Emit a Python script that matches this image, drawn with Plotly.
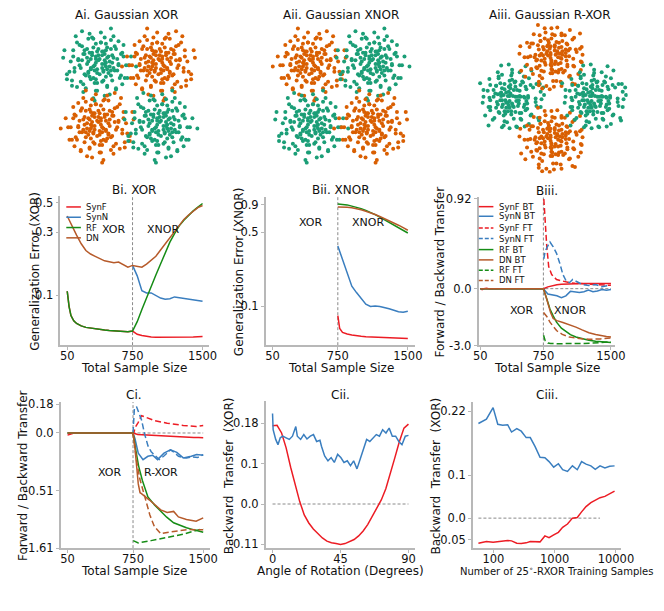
import math
import plotly.graph_objects as go

W, H = 664, 611

# ---------------- Panel A : hand-read cluster offsets (cluster-relative units) ----------------
OFF_X = [0.1,-0.5,1.2,-1.1,0.6,-0.2,1.8,-1.6,0.4,-0.8,2.3,-2.1,0.9,-0.3,1.4,-1.3,0.2,0.7,-0.6,1.0,
         -1.9,0.3,-0.9,1.6,-0.1,2.6,-2.7,0.5,-0.4,1.1,-1.4,0.8,-0.7,0.0,1.9,-1.2,0.6,-0.2,1.3,-0.9,
         0.4,-1.7,2.0,-0.5,0.9,-2.3,1.5,-0.1,0.2,-1.0,3.0,-0.6,0.7,-1.5,1.2,-0.3,0.5,-2.0,1.7,-0.8,
         0.3,-1.1,2.2,-0.4,0.0,1.0,-2.5,0.6,-0.2,1.4]
OFF_Y = [0.3,0.8,-0.4,-0.9,1.5,-1.3,0.7,0.2,-0.6,1.9,-1.2,-1.8,0.1,-0.2,1.1,1.3,2.4,-1.9,-0.5,-1.0,
         -0.4,0.9,0.4,-0.1,-2.2,0.5,1.0,-0.1,1.2,0.6,-1.5,-0.8,-1.1,0.6,-1.7,0.7,1.0,0.0,-0.6,-0.1,
         -1.4,1.6,1.4,2.0,-2.5,-0.7,0.3,-0.8,1.6,-2.0,-0.3,0.3,0.4,-0.2,2.1,-1.6,0.7,0.5,-1.2,-0.7,
         -0.4,1.0,-0.2,-2.8,1.1,1.8,-1.3,-0.3,0.5,-2.1]
CLUSTER_SPREAD = 0.41
CENTERS_X = [-1, 1, -1, 1]
CENTERS_Y = [1, 1, -1, -1]
XOR_LABELS = [0, 1, 1, 0]      # 0 = green, 1 = orange
XNOR_LABELS = [1, 0, 0, 1]
RXOR_ANGLE_DEG = 45

# ---------------- Panel B / C data ----------------
X_FULL = [50, 70, 90, 120, 150, 200, 250, 300, 350, 400, 450, 500, 550, 600, 650, 700, 750,
          800, 850, 900, 950, 1000, 1050, 1100, 1150, 1200, 1250, 1300, 1350, 1400, 1450, 1500]
X_TASK2 = [750, 800, 850, 900, 950, 1000, 1050, 1100, 1150, 1200, 1250, 1300, 1350, 1400, 1450, 1500]

# Bi: generalization error on XOR
BI_SYNF = [0.107,0.082,0.070,0.064,0.061,0.0585,0.057,0.0562,0.0555,0.055,0.0545,0.054,0.0537,0.0533,0.053,0.0528,0.0535,
           0.0505,0.0495,0.0487,0.0483,0.048,0.048,0.048,0.0478,0.048,0.048,0.0482,0.048,0.0483,0.0485,0.0487]
BI_RF = [0.107,0.082,0.070,0.064,0.061,0.0585,0.057,0.0562,0.0555,0.055,0.0545,0.054,0.0537,0.0533,0.053,0.0528,0.0535,
         0.063,0.078,0.096,0.116,0.142,0.172,0.21,0.252,0.293,0.335,0.37,0.405,0.435,0.465,0.495]
BI_DN = [0.398,0.375,0.35,0.315,0.285,0.245,0.218,0.205,0.197,0.19,0.182,0.179,0.176,0.178,0.17,0.163,0.168,
         0.166,0.163,0.172,0.185,0.197,0.22,0.245,0.275,0.305,0.34,0.375,0.405,0.435,0.46,0.478]
BI_SYNN = [0.168,0.14,0.108,0.104,0.104,0.099,0.095,0.093,0.094,0.097,0.096,0.095,0.094,0.093,0.092,0.09]

# Bii: generalization error on XNOR
X_BII = [750, 770, 800, 850, 900, 950, 1000, 1050, 1100, 1150, 1200, 1250, 1300, 1350, 1400, 1450, 1500]
BII_RF = [0.92,0.92,0.91,0.90,0.88,0.86,0.83,0.80,0.77,0.73,0.69,0.65,0.62,0.58,0.55,0.52,0.49]
BII_DN = [0.86,0.86,0.86,0.855,0.845,0.83,0.81,0.785,0.76,0.73,0.70,0.67,0.64,0.61,0.58,0.55,0.52]
BII_SYNN = [0.37,0.33,0.27,0.20,0.155,0.135,0.12,0.105,0.10,0.101,0.10,0.098,0.095,0.092,0.089,0.088,0.09]
BII_SYNF = [0.082,0.062,0.057,0.055,0.054,0.053,0.0525,0.052,0.0518,0.0515,0.051,0.0508,0.0505,0.0503,0.0502,0.05,0.05]

# Biii: transfer efficiency (plotted linearly, labelled with its log)
BIII_SYNF_BT = [1.0,0.985,1.0,1.005,0.995,1.0,1.0,1.0,1.0,1.0,1.0,1.0,1.0,1.0,1.0,1.0,1.0,
                1.03,1.05,1.065,1.075,1.08,1.085,1.087,1.087,1.088,1.088,1.09,1.088,1.087,1.087,1.086]
BIII_SYNN_BT = [1.0,1.0,1.0,1.0,1.0,1.0,1.0,1.0,1.0,1.0,1.0,1.0,1.0,1.0,1.0,1.0,1.0,
                0.91,0.9,0.88,0.85,0.88,0.955,0.95,0.935,0.95,0.975,0.95,0.96,0.985,0.975,0.985]
X_BIII_RF_BT = [50,200,400,600,750,790,823,860,896,950,1003,1050,1111,1180,1255,1330,1398,1450,1500]
BIII_RF_BT = [1.0,1.0,1.0,1.0,1.0,0.82,0.66,0.54,0.44,0.34,0.276,0.23,0.192,0.16,0.137,0.12,0.11,0.104,0.1]
X_BIII_DN_BT = [50,200,400,600,750,780,805,830,859,900,967,1040,1111,1180,1255,1330,1398,1450,1500]
BIII_DN_BT = [1.0,1.0,1.0,1.0,1.0,0.86,0.714,0.6,0.5,0.465,0.435,0.4,0.357,0.31,0.264,0.232,0.209,0.2,0.192]
X_BIII_SYNF_FT = [755,762,773,788,809,842,896,967,1039,1100,1200,1300,1400,1500]
BIII_SYNF_FT = [2.5,2.3,2.0,1.7,1.37,1.235,1.153,1.125,1.099,1.09,1.08,1.07,1.06,1.055]
X_BIII_SYNN_FT = [755,769,794,823,859,896,931,967,1004,1039,1075,1111,1183,1255,1327,1398,1489]
BIII_SYNN_FT = [1.5,1.62,1.70,1.78,1.70,1.59,1.43,1.235,1.125,1.1,1.153,1.125,1.07,1.054,1.07,1.033,1.054]
X_BIII_RF_FT = [752,770,800,830,900,1000,1100,1200,1300,1400,1500]
BIII_RF_FT = [0.22,0.13,0.09,0.082,0.08,0.079,0.08,0.083,0.09,0.1,0.11]
X_BIII_DN_FT = [752,790,823,860,896,960,1039,1150,1255,1380,1500]
BIII_DN_FT = [0.6,0.53,0.44,0.36,0.3,0.235,0.19,0.165,0.154,0.16,0.176]

# Ci: transfer efficiency, XOR then R-XOR
CI_SYNF_BT = [0.985,0.99,0.995,1.0,1.0,1.0,1.0,1.0,1.0,1.0,1.0,1.0,1.0,1.0,1.0,1.0,1.0,
              0.99,0.988,0.985,0.983,0.98,0.979,0.977,0.975,0.974,0.972,0.971,0.97,0.969,0.968,0.967]
X_CI_SYNN_BT = [50,200,400,600,750,771,806,857,909,960,1012,1081,1150,1218,1287,1373,1430,1500]
CI_SYNN_BT = [1.0,1.0,1.0,1.0,1.0,0.96,0.86,0.815,0.838,0.845,0.815,0.86,0.883,0.865,0.827,0.838,0.85,0.845]
X_CI_RF_BT = [50,200,400,600,750,780,810,850,909,980,1046,1110,1184,1250,1321,1400,1500]
CI_RF_BT = [1.0,1.0,1.0,1.0,1.0,0.88,0.77,0.67,0.556,0.5,0.455,0.415,0.376,0.358,0.342,0.327,0.31]
X_CI_DN_BT = [50,200,400,600,750,770,790,806,825,840,926,1046,1115,1184,1235,1321,1424,1460,1500]
CI_DN_BT = [1.0,1.0,1.0,1.0,1.0,0.9,0.75,0.646,0.585,0.579,0.534,0.466,0.448,0.455,0.417,0.399,0.387,0.4,0.41]
X_CI_SYNF_FT = [750,775,806,840,892,978,1115,1287,1424,1500]
CI_SYNF_FT = [0.984,1.04,1.074,1.12,1.108,1.086,1.068,1.052,1.045,1.052]
X_CI_SYNN_FT = [750,765,789,815,841,875,910,944,978,1030,1080,1110,1150,1190,1236,1280,1322,1380,1442,1500]
CI_SYNN_FT = [1.0,1.176,1.18,1.13,1.09,0.99,0.91,0.87,0.849,0.815,0.84,0.86,0.882,0.865,0.838,0.83,0.826,0.834,0.83,0.85]
X_CI_RF_FT = [752,806,943,1115,1287,1500]
CI_RF_FT = [0.252,0.236,0.252,0.275,0.297,0.336]
X_CI_DN_FT = [750,790,823,875,930,978,1046,1115,1218,1350,1459,1500]
CI_DN_FT = [1.0,0.8,0.68,0.56,0.43,0.35,0.3,0.309,0.32,0.33,0.327,0.327]

# Cii: backward transfer vs rotation angle
CII_DEG_SYNF = [0,3,6,9,12,15,18,21,24,27,30,33,36,39,42,45,48,51,54,57,60,63,66,69,72,75,78,81,84,87,90]
CII_SYNF = [1.194,1.195,1.176,1.139,1.091,1.05,1.006,0.973,0.953,0.938,0.926,0.916,0.908,0.904,0.902,0.9,
            0.902,0.907,0.912,0.921,0.933,0.949,0.969,0.988,1.01,1.038,1.074,1.115,1.155,1.188,1.198]
CII_DEG_SYNN = [0,0.4,2.1,3.6,5.1,6.8,9.0,11.1,13.2,15.4,16.4,18.6,20.7,22.8,25.0,27.1,29.2,31.4,32.4,34.5,
                36.7,38.8,40.9,43.1,45.2,47.3,49.5,51.6,53.7,55.9,58.0,60.1,62.3,64.4,66.5,68.7,70.8,72.9,
                75.1,77.2,79.3,81.5,83.6,85.7,87.9,90]
CII_SYNN = [1.224,1.184,1.16,1.147,1.164,1.168,1.164,1.16,1.168,1.192,1.168,1.16,1.172,1.161,1.168,1.172,1.155,
            1.158,1.143,1.119,1.107,1.115,1.103,1.123,1.115,1.103,1.107,1.095,1.107,1.087,1.111,1.135,1.16,1.155,
            1.164,1.172,1.168,1.184,1.176,1.188,1.168,1.168,1.155,1.147,1.168,1.17]

# Ciii: backward transfer vs number of 25-degree RXOR samples
CIII_N = [57,77,99,118,142,171,198,241,285,343,400,480,577,693,810,965,1150,1350,1620,1950,2340,2750,
          3250,3900,4600,5500,6600,7900,9500]
CIII_SYNN = [1.221,1.231,1.258,1.219,1.217,1.218,1.201,1.209,1.203,1.188,1.188,1.167,1.142,1.141,1.132,1.119,
             1.127,1.113,1.109,1.122,1.113,1.132,1.126,1.122,1.114,1.122,1.117,1.121,1.122]
CIII_SYNF = [0.9416,0.9454,0.9439,0.9454,0.9469,0.9477,0.9469,0.9416,0.9408,0.9423,0.9454,0.9454,0.9446,0.9585,
             0.9546,0.9608,0.9669,0.9785,0.9862,1.0,1.0015,1.0146,1.0269,1.0361,1.0408,1.0477,1.0508,1.0577,1.0631]

# ---------------- styling ----------------
RED = "#ec1c24"
BLUE = "#3a7ebf"
GREEN = "#168c16"
BROWN = "#b65a2a"
A_GREEN = "#1b9e77"
A_ORANGE = "#d95f02"
SPINE = "#b8b8b8"
FONT = "DejaVu Sans"
TICK_SIZE = 11.5
LABEL_SIZE = 12
TITLE_SIZE = 12

fig = go.Figure()


def dx(p0, p1):
    return [p0 / W, p1 / W]


def dy(p0, p1):
    return [1 - p1 / H, 1 - p0 / H]


def line(ax, x, y, color, dash="solid", width=1.5):
    fig.add_trace(go.Scatter(x=x, y=y, mode="lines", xaxis="x" + ax, yaxis="y" + ax,
                             line=dict(color=color, width=width, dash=dash), showlegend=False,
                             hoverinfo="skip"))


def ann(text, px, py, size=10.5, angle=0, xanchor="center", color="#111"):
    fig.add_annotation(text=text, x=px / W, y=1 - py / H, xref="paper", yref="paper",
                       showarrow=False, textangle=angle, xanchor=xanchor, yanchor="middle",
                       borderpad=0, font=dict(size=size, color=color, family=FONT))


DASH = "6px,3px"

# ---------------- Panel A scatters ----------------


def variant(k, ox, oy):
    if k == 0:
        return ox, oy
    if k == 1:
        return -ox, oy
    if k == 2:
        return oy, -ox
    return -oy, -ox


def cluster_points(ci, var_pair, angle_deg=0):
    xs, ys = [], []
    for k in var_pair:
        for ox, oy in zip(OFF_X, OFF_Y):
            vx, vy = variant(k, ox, oy)
            px = CENTERS_X[ci] + CLUSTER_SPREAD * vx
            py = CENTERS_Y[ci] + CLUSTER_SPREAD * vy
            if angle_deg:
                a = math.radians(angle_deg)
                px, py = px * math.cos(a) - py * math.sin(a), px * math.sin(a) + py * math.cos(a)
            xs.append(px)
            ys.append(py)
    return xs, ys


A_SPECS = [("7", XOR_LABELS, [(0, 2), (1, 3), (3, 1), (2, 0)], 0),
           ("8", XNOR_LABELS, [(3, 1), (0, 2), (2, 0), (1, 3)], 0),
           ("9", XOR_LABELS, [(1, 3), (2, 0), (0, 2), (3, 1)], RXOR_ANGLE_DEG)]
for ax, labels, vars_, ang in A_SPECS:
    for ci in range(4):
        xs, ys = cluster_points(ci, vars_[ci], ang)
        col = A_GREEN if labels[ci] == 0 else A_ORANGE
        fig.add_trace(go.Scatter(x=xs, y=ys, mode="markers", xaxis="x" + ax, yaxis="y" + ax,
                                 marker=dict(size=4, color=col), showlegend=False, hoverinfo="skip"))

# ---------------- Bi ----------------
line("", X_FULL, BI_SYNF, RED)
line("", X_TASK2, BI_SYNN, BLUE)
line("", X_FULL, BI_RF, GREEN)
line("", X_FULL, BI_DN, BROWN)

# ---------------- Bii ----------------
line("2", X_BII, BII_SYNF, RED)
line("2", X_BII, BII_SYNN, BLUE)
line("2", X_BII, BII_RF, GREEN)
line("2", X_BII, BII_DN, BROWN)

# ---------------- Biii ----------------
line("3", X_FULL, BIII_SYNF_BT, RED)
line("3", X_FULL, BIII_SYNN_BT, BLUE)
line("3", X_BIII_SYNF_FT, BIII_SYNF_FT, RED, DASH)
line("3", X_BIII_SYNN_FT, BIII_SYNN_FT, BLUE, DASH)
line("3", X_BIII_RF_BT, BIII_RF_BT, GREEN)
line("3", X_BIII_DN_BT, BIII_DN_BT, BROWN)
line("3", X_BIII_RF_FT, BIII_RF_FT, GREEN, DASH)
line("3", X_BIII_DN_FT, BIII_DN_FT, BROWN, DASH)

# ---------------- Ci ----------------
line("4", X_FULL, CI_SYNF_BT, RED)
line("4", X_CI_SYNN_BT, CI_SYNN_BT, BLUE)
line("4", X_CI_SYNF_FT, CI_SYNF_FT, RED, DASH)
line("4", X_CI_SYNN_FT, CI_SYNN_FT, BLUE, DASH)
line("4", X_CI_RF_BT, CI_RF_BT, GREEN)
line("4", X_CI_DN_BT, CI_DN_BT, BROWN)
line("4", X_CI_RF_FT, CI_RF_FT, GREEN, DASH)
line("4", X_CI_DN_FT, CI_DN_FT, BROWN, DASH)

# ---------------- Cii ----------------
line("5", CII_DEG_SYNF, CII_SYNF, RED)
line("5", CII_DEG_SYNN, CII_SYNN, BLUE)

# ---------------- Ciii ----------------
line("6", CIII_N, CIII_SYNN, BLUE)
line("6", CIII_N, CIII_SYNF, RED)

# reference lines
REF = dict(color="#8a8a8a", width=1, dash="3px,2px")
for ax in ["", "2", "3", "4"]:
    fig.add_shape(type="line", xref="x" + ax, yref="y" + ax + " domain", x0=750, x1=750, y0=0, y1=1,
                  line=REF, layer="below")
for ax, x0, x1 in [("3", 50, 1500), ("4", 50, 1500), ("5", 0, 90), ("6", 57, 5500)]:
    fig.add_shape(type="line", xref="x" + ax, yref="y" + ax, x0=x0, x1=x1, y0=1.0, y1=1.0,
                  line=REF, layer="below")

# ---------------- axes ----------------
tickfont = dict(size=TICK_SIZE, color="#111", family=FONT)


def axstyle(**kw):
    base = dict(showline=True, linecolor=SPINE, linewidth=1.5, ticks="outside", ticklen=3,
                tickcolor=SPINE, tickwidth=1.2, showgrid=False, zeroline=False, tickfont=tickfont,
                fixedrange=True)
    base.update(kw)
    return base


def xstyle(**kw):
    return axstyle(ticklabelstandoff=-4, **kw)


def hidden(**kw):
    base = dict(visible=False, showgrid=False, zeroline=False, fixedrange=True)
    base.update(kw)
    return base


X_SS = dict(range=[-22.5, 1572.5], tickvals=[50, 750, 1500], ticktext=["50", "750", "1500"])

layout = dict(
    width=W, height=H, margin=dict(l=0, r=0, t=0, b=0),
    paper_bgcolor="white", plot_bgcolor="white", showlegend=False,
    font=dict(family=FONT, color="#111"),
    # Bi
    xaxis=xstyle(domain=dx(57, 210), anchor="y", **X_SS),
    yaxis=axstyle(domain=dy(195, 347), anchor="x", type="log", range=[-1.379, -0.250],
                  tickvals=[0.1, 0.3, 0.5], ticktext=["0.1", "0.3", "0.5"]),
    # Bii
    xaxis2=xstyle(domain=dx(268, 421), anchor="y2", **X_SS),
    yaxis2=axstyle(domain=dy(196, 347), anchor="x2", type="log", range=[-1.364, 0.027],
                   tickvals=[0.1, 0.5, 0.9], ticktext=["0.1", "0.5", "0.9"]),
    # Biii
    xaxis3=xstyle(domain=dx(486.7, 627), anchor="y3", range=[30, 1545], tickvals=[50, 750, 1500],
                  ticktext=["50", "750", "1500"]),
    yaxis3=axstyle(domain=dy(196, 347.3), anchor="x3", range=[0.05, 2.53], tickvals=[0.05, 1.0, 2.5],
                   ticktext=["-3.0", "0.0", "0.92"]),
    # Ci
    xaxis4=xstyle(domain=dx(57.3, 210.7), anchor="y4", **X_SS),
    yaxis4=axstyle(domain=dy(405, 554), anchor="x4", range=[0.2, 1.215], tickvals=[0.2, 0.6, 1.0, 1.2],
                   ticktext=["-1.61", "-0.51", "0.0", "0.18"]),
    # Cii
    xaxis5=xstyle(domain=dx(268, 421.7), anchor="y5", range=[-4.5, 94.5], tickvals=[0, 45, 90],
                  ticktext=["0", "45", "90"]),
    yaxis5=axstyle(domain=dy(404, 554.3), anchor="x5", range=[0.89, 1.255], tickvals=[0.9, 1.0, 1.1, 1.2],
                   ticktext=["-0.11", "0.0", "0.1", "0.18"]),
    # Ciii
    xaxis6=xstyle(domain=dx(481, 633), anchor="y6", type="log", range=[1.667, 4.08],
                  tickvals=[100, 1000, 10000], ticktext=["100", "1000", "10000"]),
    yaxis6=axstyle(domain=dy(405, 554), anchor="x6", range=[0.93, 1.271], tickvals=[0.95, 1.0, 1.1, 1.25],
                   ticktext=["-0.05", "0.0", "0.1", "0.22"]),
    # A scatters
    xaxis7=hidden(domain=dx(55, 200), anchor="y7", range=[-2.3, 2.3]),
    yaxis7=hidden(domain=dy(18, 163), anchor="x7", range=[-2.3, 2.3]),
    xaxis8=hidden(domain=dx(273, 418), anchor="y8", range=[-2.3, 2.3]),
    yaxis8=hidden(domain=dy(18, 163), anchor="x8", range=[-2.3, 2.3]),
    xaxis9=hidden(domain=dx(485, 640), anchor="y9", range=[-2.6, 2.6]),
    yaxis9=hidden(domain=dy(17, 172), anchor="x9", range=[-2.6, 2.6]),
)
fig.update_layout(**layout)

# ---------------- titles & labels ----------------
ann("Ai. Gaussian XOR", 125, 10, TITLE_SIZE)
ann("Aii. Gaussian XNOR", 345, 10, TITLE_SIZE)
ann("Aiii. Gaussian R-XOR", 560, 10, TITLE_SIZE)
ann("Bi. XOR", 133, 189, TITLE_SIZE)
ann("Bii. XNOR", 345, 189, TITLE_SIZE)
ann("Biii.", 557, 190, TITLE_SIZE)
ann("Ci.", 133, 398, TITLE_SIZE)
ann("Cii.", 345, 398, TITLE_SIZE)
ann("Ciii.", 557, 398, TITLE_SIZE)

ann("Generalization Error (XOR)", 30, 272, LABEL_SIZE, -90)
ann("Generalization Error (XNOR)", 240, 272, LABEL_SIZE, -90)
ann("Forward / Backward Transfer", 447, 272, LABEL_SIZE, -90)
ann("Forward / Backward Transfer", 18, 480, LABEL_SIZE, -90)
ann("Backward  Transfer  (XOR)", 230, 480, LABEL_SIZE, -90)
ann("Backward  Transfer  (XOR)", 443, 480, LABEL_SIZE, -90)

ann("Total Sample Size", 133, 370, LABEL_SIZE)
ann("Total Sample Size", 345, 370, LABEL_SIZE)
ann("Total Sample Size", 557, 370, LABEL_SIZE)
ann("Total Sample Size", 133, 577, LABEL_SIZE)
ann("Angle of Rotation (Degrees)", 345, 577, LABEL_SIZE)
ann("Number of 25<sup>∘</sup>-RXOR Training Samples", 567, 577, 10)

ann("XOR", 112, 229, 11)
ann("XNOR", 162, 229, 11)
ann("XOR", 314, 222, 11)
ann("XNOR", 373, 222, 11)
ann("XOR", 531, 312, 11)
ann("XNOR", 581, 312, 11)
ann("XOR", 107, 477, 11)
ann("R-XOR", 160, 477, 11)

# ---------------- manual legends ----------------


def legend_rows(x0, x1, xt, rows):
    for label, color, dash, py in rows:
        fig.add_shape(type="line", xref="paper", yref="paper", x0=x0 / W, x1=x1 / W,
                      y0=1 - py / H, y1=1 - py / H, line=dict(color=color, width=1.5, dash=dash))
        ann(label, xt, py, 8.5, xanchor="left")


legend_rows(63, 78, 82, [("SynF", RED, "solid", 206), ("SynN", BLUE, "solid", 216.5),
                         ("RF", GREEN, "solid", 227), ("DN", BROWN, "solid", 237.5)])
legend_rows(487, 502, 507, [("SynF BT", RED, "solid", 205.7), ("SynN BT", BLUE, "solid", 215.5),
                            ("SynF FT", RED, "4px,2px", 227.5), ("SynN FT", BLUE, "4px,2px", 238.3),
                            ("RF BT", GREEN, "solid", 249.5), ("DN BT", BROWN, "solid", 260),
                            ("RF FT", GREEN, "4px,2px", 270.5), ("DN FT", BROWN, "4px,2px", 281)])

fig.write_html("out.html", config={"displayModeBar": False},
               post_script="document.body.style.margin='0';document.body.style.overflow='hidden';")
